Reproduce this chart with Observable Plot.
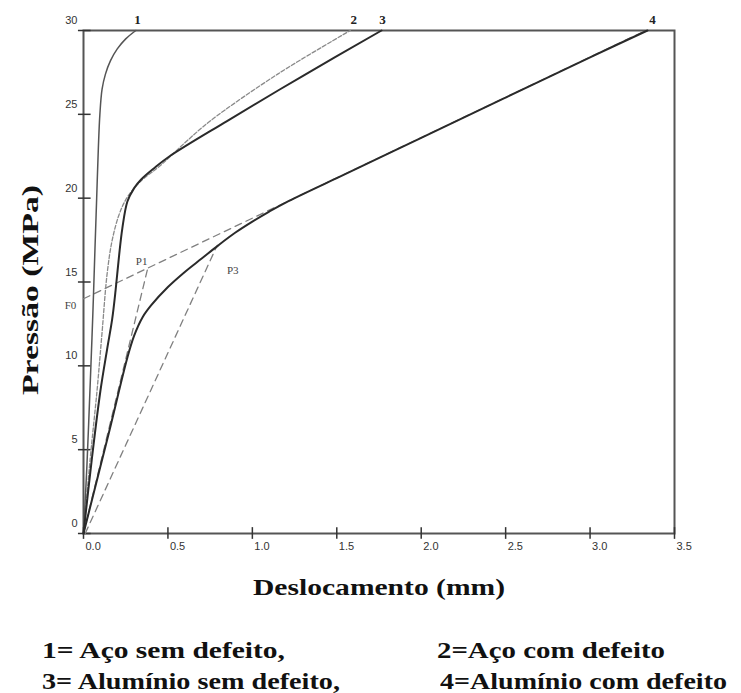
<!DOCTYPE html>
<html>
<head>
<meta charset="utf-8">
<script src="https://cdn.jsdelivr.net/npm/d3@7"></script>
<script src="https://cdn.jsdelivr.net/npm/@observablehq/plot@0.6"></script>
<style>
  body { margin: 0; background: white; }
  #wrap { position: relative; width: 741px; height: 693px; background: white; }
  .leg { position: absolute; font-family: "Liberation Serif", "Times New Roman", Times, serif; font-weight: bold; font-size: 23px; line-height: 24px; white-space: nowrap; color: #111; }
  .leg span { display: inline-block; transform-origin: left center; }
</style>
</head>
<body>
<div id="wrap"></div>
<script>
// ---- Data ----
const xTicks = [0, 0.5, 1.0, 1.5, 2.0, 2.5, 3.0, 3.5];
const xTickLabels = ["0.0", "0.5", "1.0", "1.5", "2.0", "2.5", "3.0", "3.5"];
const yTicks = [0, 5, 10, 15, 20, 25, 30];
const yTickLabels = ["0", "5", "10", "15", "20", "25", "30"];

// Curve 1 = Aço sem defeito
const c1x = [0, 0.02, 0.04, 0.055, 0.068, 0.078, 0.088, 0.097, 0.11, 0.13, 0.16, 0.2, 0.25, 0.31];
const c1y = [0, 4, 9, 13, 17, 20, 23, 25, 26.5, 27.4, 28.2, 28.9, 29.5, 30];
// Curve 2 = Aço com defeito
const c2x = [0, 0.04, 0.08, 0.11, 0.14, 0.17, 0.21, 0.25, 0.3, 0.36, 0.45, 0.6, 0.75, 1.15, 1.58];
const c2y = [0, 4.5, 8.5, 12, 15.5, 17.5, 19, 19.9, 20.6, 21.2, 21.9, 23.3, 24.6, 27.4, 30];
// Curve 3 = Alumínio sem defeito
const c3x = [0, 0.05, 0.1, 0.14, 0.17, 0.19, 0.21, 0.23, 0.26, 0.3, 0.34, 0.42, 0.51, 0.85, 1.3, 1.765];
const c3y = [0, 4.5, 8.5, 11, 12.8, 14.5, 16.5, 18.2, 19.8, 20.6, 21.1, 21.8, 22.5, 24.6, 27.3, 30];
// Curve 4 = Alumínio com defeito
const c4x = [0, 0.15, 0.26, 0.3, 0.35, 0.4, 0.5, 0.6, 0.7, 0.8, 0.9, 1.0, 1.1, 1.2, 1.5, 2.0, 2.5, 3.0, 3.34];
const c4y = [0, 6, 10.5, 11.8, 12.9, 13.6, 14.7, 15.6, 16.4, 17.2, 17.95, 18.6, 19.2, 19.75, 21.2, 23.6, 26.0, 28.4, 30];

// Construction (dashed) lines
const f0x = [0, 3.33], f0y = [14.0, 30];          // tangent from F0
const p1x = [0, 0.38], p1y = [0, 15.8];           // secant to P1
const p3x = [0.01, 0.79], p3y = [0, 17.15];       // secant to P3

// Curve end labels
const endLabels = ["1", "2", "3", "4"];
const endLabelX = [0.32, 1.6, 1.77, 3.37];
const endLabelY = [30, 30, 30, 30];

// Point labels
const ptLabels = ["P1", "P3", "F0"];
const ptX = [0.344, 0.884, -0.077];
const ptY = [16.2, 15.7, 13.6];

const xTitle = "Deslocamento (mm)";
const yTitle = "Pressão (MPa)";
const legendRows = [
  ["1= Aço sem defeito,", "2=Aço com defeito"],
  ["3= Alumínio sem defeito,", "4=Alumínio com defeito"]
];

// ---- Build tables ----
const toRows = (xs, ys, id) => xs.map((x, i) => ({x, y: ys[i], id}));
const dashed = [
  ...toRows(f0x, f0y, "F0"),
  ...toRows(p1x, p1y, "P1"),
  ...toRows(p3x, p3y, "P3")
];
const ends = endLabels.map((t, i) => ({t, x: endLabelX[i], y: endLabelY[i]}));
const pts = ptLabels.map((t, i) => ({t, x: ptX[i], y: ptY[i]}));
const yLab = yTicks.map((v, i) => ({v, t: yTickLabels[i]}));
const serif = "Liberation Serif, Times New Roman, serif";
const sans = "Liberation Sans, Arial, sans-serif";

const chart = Plot.plot({
  width: 741,
  height: 620,
  marginLeft: 83,
  marginRight: 67,
  marginTop: 30,
  marginBottom: 87,
  x: {domain: [0, 3.5]},
  y: {domain: [0, 30]},
  style: {background: "white", fontFamily: sans},
  marks: [
    Plot.frame({stroke: "#555", strokeWidth: 2}),
    Plot.ruleX(xTicks, {x: d => d, y1: -0.35, y2: 0.35, stroke: "#333", strokeWidth: 1.5}),
    Plot.ruleY(yTicks, {y: d => d, x1: -0.03, x2: 0.045, stroke: "#333", strokeWidth: 1.5}),
    Plot.axisX({ticks: xTicks, tickFormat: d => xTickLabels[xTicks.indexOf(d)], tickSize: 0, tickPadding: 9,
      textAnchor: "start", dx: 2, fontSize: 11, fill: "#333", label: null}),
    Plot.axisY({ticks: [], label: null}),
    Plot.text(yLab, {frameAnchor: "left", y: "v", text: "t", textAnchor: "end", dx: -6, dy: -10, fontSize: 11, fontFamily: sans, fill: "#333"}),
    // construction lines
    Plot.line(dashed, {x: "x", y: "y", z: "id", stroke: "#808080", strokeWidth: 1.3, strokeDasharray: "7,5"}),
    // curves
    Plot.line(toRows(c2x, c2y, 2), {x: "x", y: "y", stroke: "#8a8a8a", strokeWidth: 1.3, strokeDasharray: "4,2", curve: "catmull-rom"}),
    Plot.line(toRows(c1x, c1y, 1), {x: "x", y: "y", stroke: "#555", strokeWidth: 1.5, curve: "catmull-rom"}),
    Plot.line(toRows(c3x, c3y, 3), {x: "x", y: "y", stroke: "#2a2a2a", strokeWidth: 2, curve: "catmull-rom"}),
    Plot.line(toRows(c4x, c4y, 4), {x: "x", y: "y", stroke: "#2a2a2a", strokeWidth: 2, curve: "catmull-rom"}),
    // labels
    Plot.text(ends, {x: "x", y: "y", text: "t", dy: -11, fontSize: 13, fontWeight: "bold", fontFamily: serif, fill: "#222"}),
    Plot.text(pts, {x: "x", y: "y", text: "t", fontSize: 11, fontFamily: serif, fill: "#444"}),
    Plot.text([yTitle], {frameAnchor: "left", textAnchor: "middle", rotate: -90, dx: -53, dy: 8, text: d => d,
      fontSize: 24, fontWeight: "bold", fontFamily: serif, fill: "#111"}),
    Plot.text([xTitle], {frameAnchor: "bottom", textAnchor: "middle", dy: 61, text: d => d,
      fontSize: 24, fontWeight: "bold", fontFamily: serif, fill: "#111"})
  ]
});

const wrap = document.getElementById("wrap");
wrap.appendChild(chart);

// stretch titles to the reference widths
chart.querySelectorAll("text").forEach(t => {
  if (t.textContent === yTitle) { t.setAttribute("textLength", 210); t.setAttribute("lengthAdjust", "spacingAndGlyphs"); }
  if (t.textContent === xTitle) { t.setAttribute("textLength", 252); t.setAttribute("lengthAdjust", "spacingAndGlyphs"); }
});

// legend below the chart
const legLeft = [[42, 437], [42, 440]];
const legWidth = [[243, 228], [298, 287]];
const legTop = [639, 670];
legendRows.forEach((row, r) => {
  row.forEach((txt, c) => {
    const d = document.createElement("div");
    d.className = "leg";
    d.style.left = legLeft[r][c] + "px";
    d.style.top = legTop[r] + "px";
    const s = document.createElement("span");
    s.textContent = txt;
    d.appendChild(s);
    wrap.appendChild(d);
    const w = s.getBoundingClientRect().width;
    s.style.transform = `scaleX(${legWidth[r][c] / w})`;
  });
});
</script>
</body>
</html>
